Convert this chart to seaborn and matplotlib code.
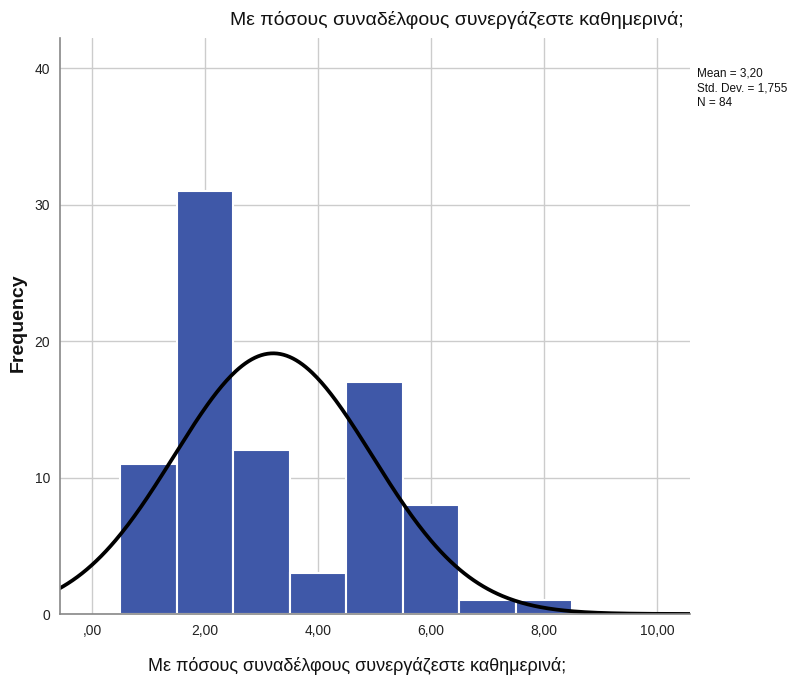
import numpy as np
import pandas as pd
import matplotlib
matplotlib.use("Agg")
import matplotlib.pyplot as plt
import seaborn as sns

# Data
values = [1, 2, 3, 4, 5, 6, 7, 8]
counts = [11, 31, 12, 3, 17, 8, 1, 1]
xticks = [0, 2, 4, 6, 8, 10]
xticklabels = [",00", "2,00", "4,00", "6,00", "8,00", "10,00"]
yticks = [0, 10, 20, 30, 40]
title = "Με πόσους συναδέλφους συνεργάζεστε καθημερινά;"
xlabel = "Με πόσους συναδέλφους συνεργάζεστε καθημερινά;"
ylabel = "Frequency"

sns.set_theme(style="white")
plt.rcParams["font.family"] = ["Liberation Sans", "DejaVu Sans"]

df = pd.DataFrame({"value": values, "count": counts})
n = int(np.sum(counts))
mean = float(np.sum(np.array(values) * np.array(counts)) / n)
sd = float(np.sqrt(np.sum(np.array(counts) * (np.array(values) - mean) ** 2) / (n - 1)))

fig = plt.figure(figsize=(7.92, 6.88), dpi=100)
ax = fig.add_axes([60 / 792, 1 - 614 / 688, 630 / 792, 576 / 688])

sns.histplot(data=df, x="value", weights="count", discrete=True,
             color="#3F58A8", alpha=1, edgecolor="white", linewidth=1.5, ax=ax)

xs = np.linspace(-0.6, 10.6, 400)
ys = n * 1.0 / (sd * np.sqrt(2 * np.pi)) * np.exp(-0.5 * ((xs - mean) / sd) ** 2)
sns.lineplot(x=xs, y=ys, color="black", linewidth=2.7, ax=ax)

ax.set_xlim(-0.57, 10.58)
ax.set_ylim(0, 42.2)
ax.set_xticks(xticks)
ax.set_xticklabels(xticklabels, fontsize=10)
ax.set_yticks(yticks)
ax.set_yticklabels([str(t) for t in yticks], fontsize=10)
ax.grid(True, color="#CCCCCC", linewidth=1)
ax.set_axisbelow(True)
for s in ["top", "right"]:
    ax.spines[s].set_visible(False)
for s in ["left", "bottom"]:
    ax.spines[s].set_color("#888888")
    ax.spines[s].set_linewidth(1.2)
ax.tick_params(axis="both", length=0, pad=7, colors="#222222")
ax.set_xlabel("")
ax.set_ylabel("")

fig.text(457 / 792, 1 - 20 / 688, title, ha="center", va="center", fontsize=14, color="#111111")
fig.text(357 / 792, 1 - 666 / 688, xlabel, ha="center", va="center", fontsize=13, color="#111111")
fig.text(18 / 792, 1 - 323 / 688, ylabel, ha="center", va="center", rotation=90,
         fontsize=14, fontweight="bold", color="#111111")
mean_s = f"{mean:.2f}".replace(".", ",")
sd_s = f"{sd:.3f}".replace(".", ",")
fig.text(697 / 792, 1 - 68 / 688,
         f"Mean = {mean_s}\nStd. Dev. = {sd_s}\nN = {n}",
         ha="left", va="top", fontsize=8.5, linespacing=1.25, color="#111111")

fig.savefig("out.png", dpi=100)
